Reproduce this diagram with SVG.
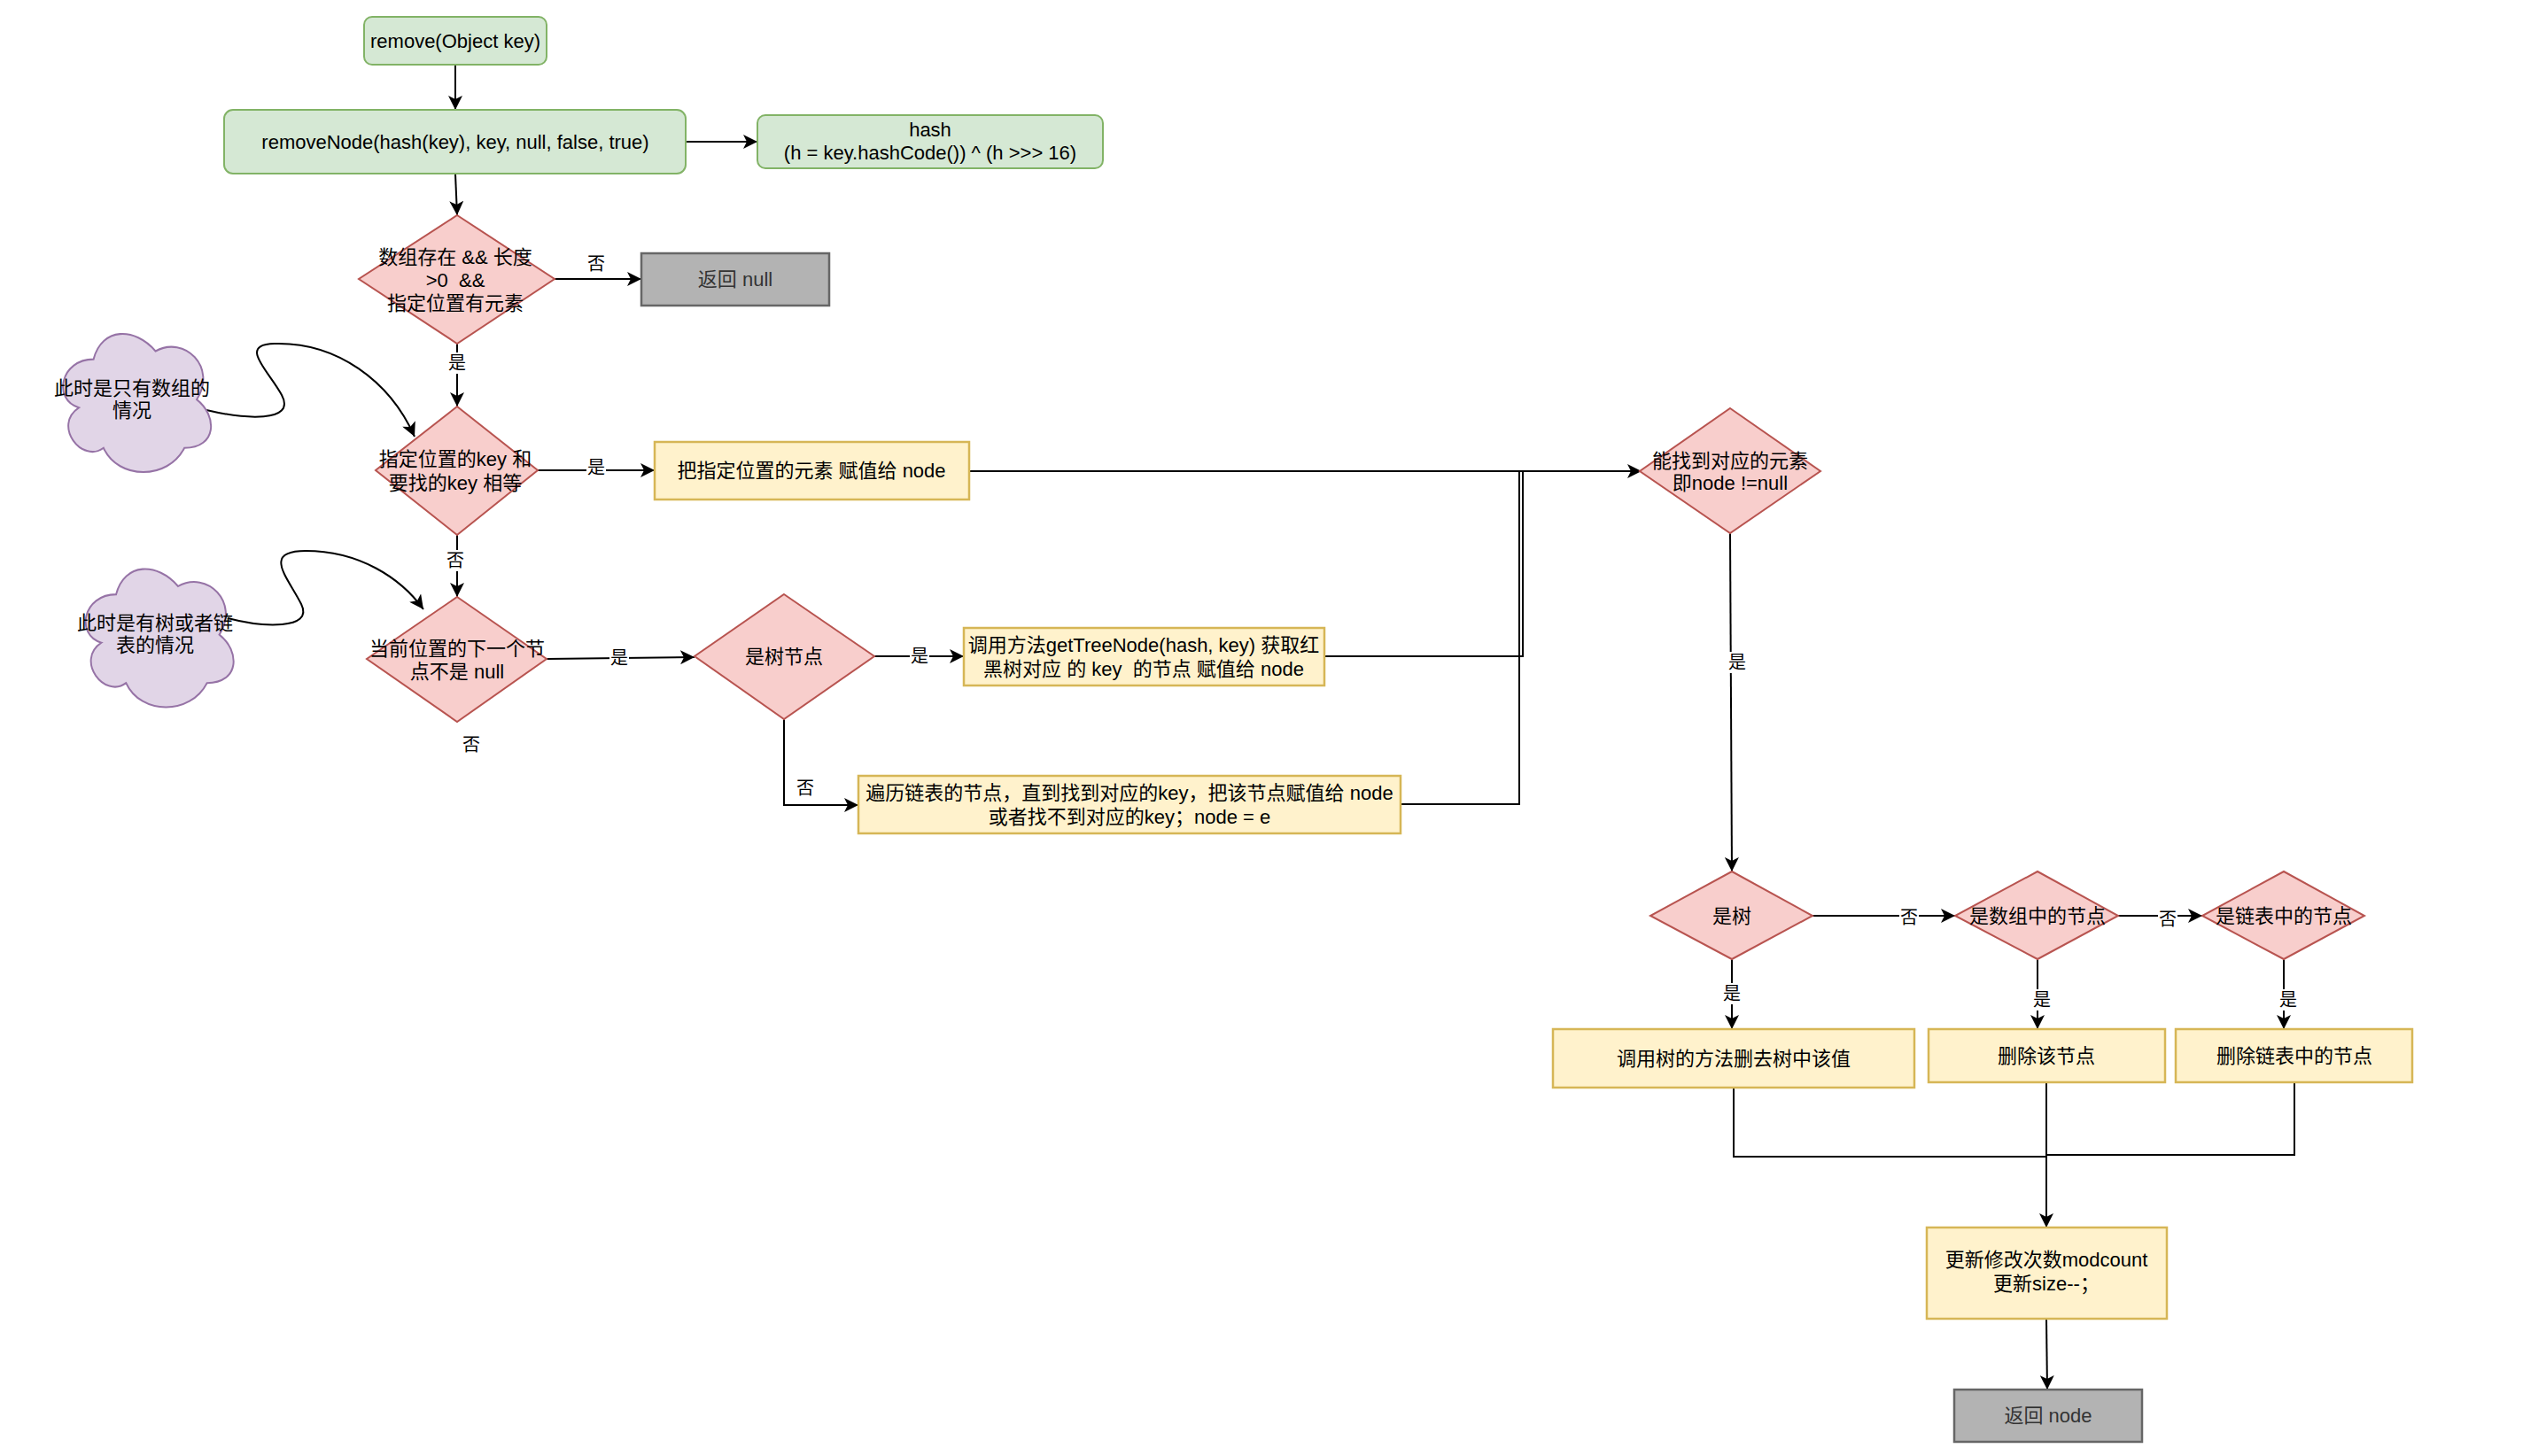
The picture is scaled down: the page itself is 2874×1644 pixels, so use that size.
<svg xmlns="http://www.w3.org/2000/svg" width="2874" height="1644" viewBox="0 0 2874 1644">
<style>
text{font-family:"Liberation Sans","Noto Sans CJK SC",sans-serif;font-size:22px;fill:#000;text-anchor:middle;white-space:pre}
.g{fill:#d5e8d4;stroke:#82b366;stroke-width:2}
.r{fill:#f8cecc;stroke:#b85450;stroke-width:2}
.y{fill:#fff2cc;stroke:#d6b656;stroke-width:2.5}
.gr{fill:#b3b3b3;stroke:#666666;stroke-width:2.5}
.p{fill:#e1d5e7;stroke:#9673a6;stroke-width:1.8}
.gt{fill:#333333}
.e{fill:none;stroke:#000;stroke-width:2}
.a{marker-end:url(#arr)}
.lb{font-size:20px}
.bg{fill:#fff}
</style>
<defs>
<marker id="arr" markerUnits="userSpaceOnUse" markerWidth="18" markerHeight="16" refX="16" refY="8" orient="auto">
<path d="M0,0 L16,8 L0,16 L4,8 z" fill="#000"/>
</marker>
</defs>
<rect width="2874" height="1644" fill="#fff"/>

<g id="connectors">
<path class="e a" d="M514,73 L514,124"/>
<path class="e a" d="M774,160 L855,160"/>
<path class="e a" d="M514,196 L516,243"/>
<path class="e a" d="M626,315 L724,315"/>
<path class="e a" d="M516,388 L516,459"/>
<path class="e a" d="M607,531 L739,531"/>
<path class="e a" d="M516,604 L516,674"/>
<path class="e a" d="M617,744 L784,742"/>
<path class="e a" d="M987,741 L1088,741"/>
<path class="e a" d="M885,812 L885,909 L969,909"/>
<path class="e a" d="M1094,532 L1853,532"/>
<path class="e" d="M1495,741 L1719,741 L1719,532"/>
<path class="e" d="M1581,908 L1715,908 L1715,532"/>
<path class="e a" d="M1953,602 L1955,984"/>
<path class="e a" d="M2046,1034 L2207,1034"/>
<path class="e a" d="M2391,1034 L2486,1034"/>
<path class="e a" d="M1955,1083 L1955,1162"/>
<path class="e a" d="M2300,1083 L2300,1162"/>
<path class="e a" d="M2578,1083 L2578,1162"/>
<path class="e" d="M1957,1228 L1957,1306 L2310,1306"/>
<path class="e" d="M2590,1222 L2590,1304 L2310,1304"/>
<path class="e a" d="M2310,1222 L2310,1386"/>
<path class="e a" d="M2310,1489 L2311,1569"/>
<path class="e a" d="M233,463 C275,473 335,478 318,446 C303,418 268,389 310,388 C380,386 440,430 468,493"/>
<path class="e a" d="M257,698 C295,708 355,712 340,682 C325,652 295,622 345,622 C405,622 452,652 478,688"/>
<rect class="bg" x="663" y="284" width="22" height="26"/>
<text class="lb" x="673" y="305">否</text>
<rect class="bg" x="505" y="398" width="22" height="24"/>
<text class="lb" x="516" y="417">是</text>
<rect class="bg" x="662" y="516" width="22" height="24"/>
<text class="lb" x="673" y="535">是</text>
<rect class="bg" x="504" y="621" width="22" height="24"/>
<text class="lb" x="514" y="640">否</text>
<rect class="bg" x="688" y="731" width="22" height="24"/>
<text class="lb" x="699" y="750">是</text>
<rect class="bg" x="1027" y="729" width="22" height="24"/>
<text class="lb" x="1038" y="748">是</text>
<text class="lb" x="909" y="897">否</text>
<text class="lb" x="532" y="848">否</text>
<rect class="bg" x="1950" y="736" width="22" height="24"/>
<text class="lb" x="1961" y="755">是</text>
<rect class="bg" x="2144" y="1024" width="22" height="24"/>
<text class="lb" x="2155" y="1043">否</text>
<rect class="bg" x="2436" y="1026" width="22" height="24"/>
<text class="lb" x="2447" y="1045">否</text>
<rect class="bg" x="1944" y="1110" width="22" height="24"/>
<text class="lb" x="1955" y="1129">是</text>
<rect class="bg" x="2294" y="1117" width="22" height="24"/>
<text class="lb" x="2305" y="1136">是</text>
<rect class="bg" x="2572" y="1117" width="22" height="24"/>
<text class="lb" x="2583" y="1136">是</text>
</g>

<g id="n-remove">
<rect class="g" x="411" y="19" width="206" height="54" rx="9"/>
<text x="514" y="54">remove(Object key)</text>
</g>
<g id="n-removeNode">
<rect class="g" x="253" y="124" width="521" height="72" rx="10"/>
<text x="514" y="168">removeNode(hash(key), key, null, false, true)</text>
</g>
<g id="n-hash">
<rect class="g" x="855" y="130" width="390" height="60" rx="9"/>
<text x="1050" y="154">hash</text>
<text x="1050" y="180">(h = key.hashCode()) ^ (h &gt;&gt;&gt; 16)</text>
</g>
<g id="n-d1">
<polygon class="r" points="516,243 626,315 516,388 405,315"/>
<text x="514" y="298">数组存在 &amp;&amp; 长度</text>
<text x="514" y="324">&gt;0  &amp;&amp;</text>
<text x="514" y="350">指定位置有元素</text>
</g>
<g id="n-retnull">
<rect class="gr" x="724" y="286" width="212" height="59"/>
<text class="gt" x="830" y="323">返回 null</text>
</g>
<g id="n-cloud1">
<path class="p" transform="translate(153,454) scale(1.09,1.16) translate(-154,-456)" d="M110.5,414.3 C76.3,414.3 67.8,453.5 95.2,461.4 C67.8,478.6 98.6,516.3 120.8,500.6 C136.2,532 187.5,532 204.6,500.6 C238.8,500.6 238.8,469.2 217.4,453.5 C238.8,422.1 204.6,390.7 174.7,406.4 C153.3,382.9 119.1,382.9 110.5,414.3 Z"/>
<text x="149" y="446">此时是只有数组的</text>
<text x="149" y="471">情况</text>
</g>
<g id="n-d2">
<polygon class="r" points="516,459 607,531 516,604 424,531"/>
<text x="514" y="526">指定位置的key 和</text>
<text x="514" y="553">要找的key 相等</text>
</g>
<g id="n-assign">
<rect class="y" x="739" y="499" width="355" height="65"/>
<text x="916" y="539">把指定位置的元素 赋值给 node</text>
</g>
<g id="n-cloud2">
<path class="p" transform="translate(178.5,719) scale(1.09,1.16) translate(-180,-722)" d="M136.5,680.7 C102.3,680.7 93.8,719.9 121.2,727.8 C93.8,745 124.6,782.7 146.8,767 C162.2,798.4 213.5,798.4 230.6,767 C264.8,767 264.8,735.6 243.4,719.9 C264.8,688.5 230.6,657.1 200.7,672.8 C179.3,649.3 145.1,649.3 136.5,680.7 Z"/>
<text x="175" y="711">此时是有树或者链</text>
<text x="175" y="736">表的情况</text>
</g>
<g id="n-d3">
<polygon class="r" points="516,674 617,744 516,815 414,744"/>
<text x="516" y="740">当前位置的下一个节</text>
<text x="516" y="766">点不是 null</text>
</g>
<g id="n-d4">
<polygon class="r" points="885,671 987,741 885,812 784,741"/>
<text x="885" y="749">是树节点</text>
</g>
<g id="n-treenode">
<rect class="y" x="1088" y="709" width="407" height="65"/>
<text x="1291" y="736">调用方法getTreeNode(hash, key) 获取红</text>
<text x="1291" y="763">黑树对应 的 key  的节点 赋值给 node</text>
</g>
<g id="n-list">
<rect class="y" x="969" y="876" width="612" height="65"/>
<text x="1275" y="903">遍历链表的节点，直到找到对应的key，把该节点赋值给 node</text>
<text x="1275" y="930">或者找不到对应的key；node = e</text>
</g>
<g id="n-d5">
<polygon class="r" points="1953,461 2055,532 1953,602 1851,532"/>
<text x="1953" y="528">能找到对应的元素</text>
<text x="1953" y="553">即node !=null</text>
</g>
<g id="n-d6">
<polygon class="r" points="1955,984 2046,1034 1955,1083 1863,1034"/>
<text x="1955" y="1042">是树</text>
</g>
<g id="n-d7">
<polygon class="r" points="2300,984 2391,1034 2300,1083 2207,1034"/>
<text x="2300" y="1042">是数组中的节点</text>
</g>
<g id="n-d8">
<polygon class="r" points="2578,984 2669,1034 2578,1083 2486,1034"/>
<text x="2578" y="1042">是链表中的节点</text>
</g>
<g id="n-treedel">
<rect class="y" x="1753" y="1162" width="408" height="66"/>
<text x="1957" y="1203">调用树的方法删去树中该值</text>
</g>
<g id="n-arrdel">
<rect class="y" x="2177" y="1162" width="267" height="60"/>
<text x="2310" y="1200">删除该节点</text>
</g>
<g id="n-listdel">
<rect class="y" x="2456" y="1162" width="267" height="60"/>
<text x="2590" y="1200">删除链表中的节点</text>
</g>
<g id="n-update">
<rect class="y" x="2175" y="1386" width="271" height="103"/>
<text x="2310" y="1430">更新修改次数modcount</text>
<text x="2310" y="1457">更新size--；</text>
</g>
<g id="n-retnode">
<rect class="gr" x="2206" y="1569" width="212" height="59"/>
<text class="gt" x="2312" y="1606">返回 node</text>
</g>
</svg>
